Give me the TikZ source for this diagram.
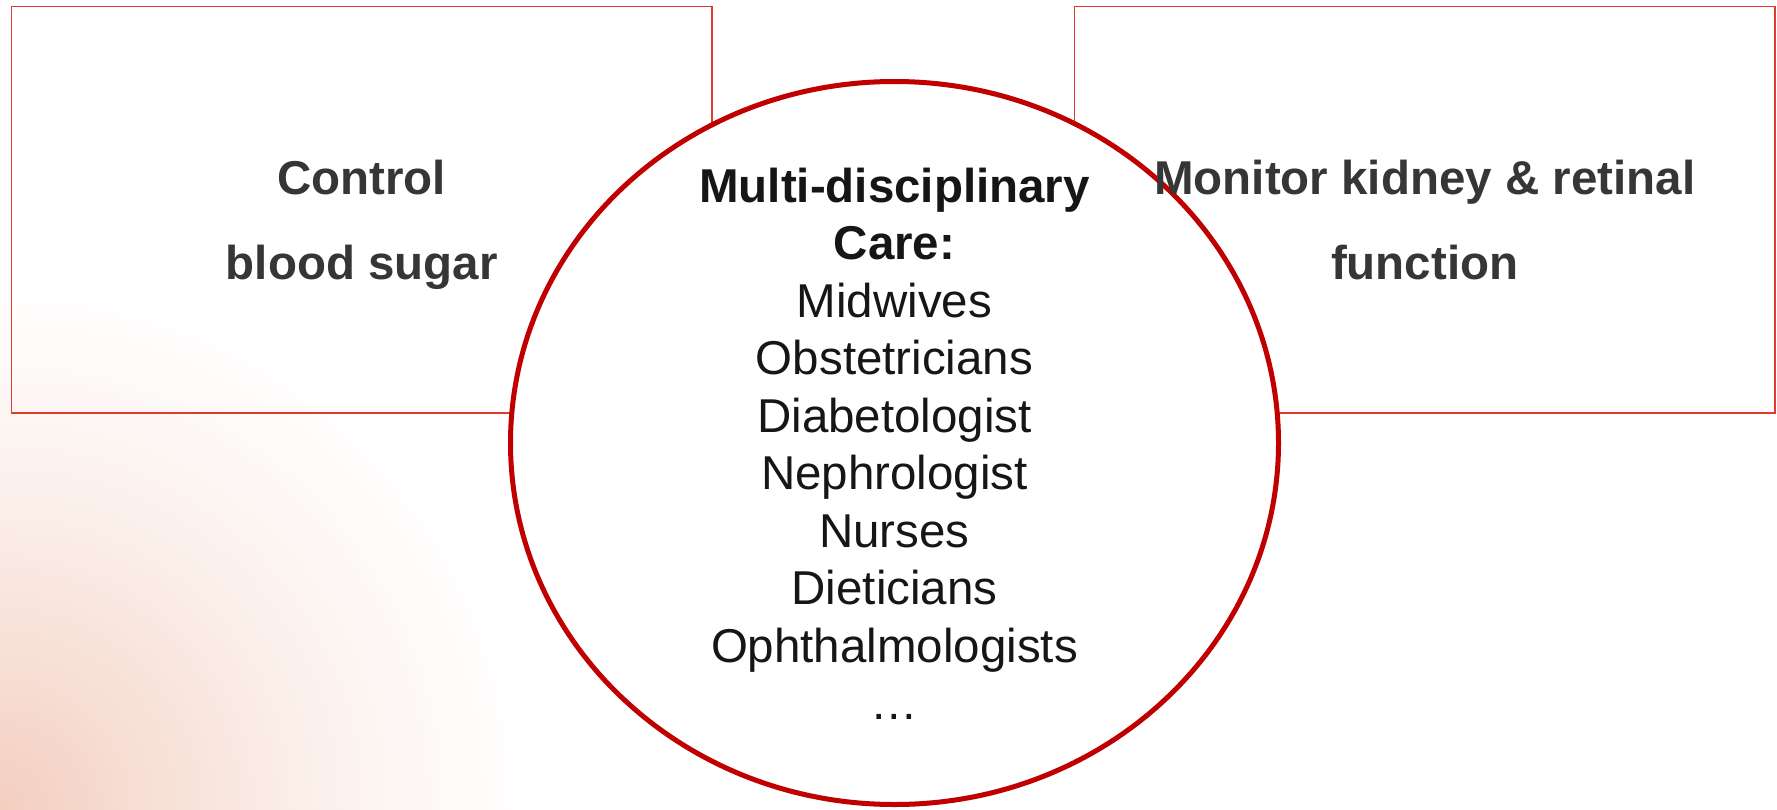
\documentclass[tikz,border=0pt]{standalone}
\usepackage{fontspec}
\setmainfont{Liberation Sans}
\usetikzlibrary{shapes.geometric}

\definecolor{boxred}{HTML}{E03A2E}
\definecolor{ringred}{HTML}{C00000}
\definecolor{boxtext}{HTML}{363636}
\definecolor{ringtext}{HTML}{161616}
\definecolor{peach}{HTML}{F3CFC0}

\begin{document}
\begin{tikzpicture}[x=1pt,y=-1pt,
  goalbox/.style={draw=boxred, line width=1.5pt, minimum width=700.5pt,
    minimum height=406.5pt, inner sep=0pt},
  goaltext/.style={text=boxtext, font=\fontsize{47.5}{85}\selectfont\bfseries,
    align=center, anchor=base, inner sep=0pt},
  carering/.style={ellipse, draw=ringred, fill=white, line width=5pt,
    minimum width=768pt, minimum height=723pt, inner sep=0pt},
  caretext/.style={text=ringtext, font=\fontsize{47.5}{57.5}\selectfont,
    align=center, inner sep=0pt}]
\useasboundingbox (0,0) rectangle (1777,809);

% soft warm glow in the lower left corner, built from nested discs
\begin{scope}
  \clip (0,0) rectangle (1777,809);
  \foreach \k in {1,...,60}{
    \pgfmathsetmacro\rr{9*(61-\k)}
    \pgfmathsetmacro\pp{100*(\k/60)^1.3}
    \fill[peach!\pp!white] (0,809) circle (\rr);
  }
\end{scope}

% the two goal boxes
\node[goalbox] (sugar)  at (361.75,209.75) {};
\node[goalbox] (organs) at (1424.75,209.75) {};

% the care team in the middle
\node[carering] (care) at (894.5,443) {};
\node[caretext] (carelist) at (894.5,444) {%
  \textbf{Multi-disciplinary}\\\textbf{Care:}\\Midwives\\Obstetricians\\%
  Diabetologist\\Nephrologist\\Nurses\\Dieticians\\Ophthalmologists\\…};

% box captions, drawn last so they sit on top of the ring
\node[goaltext] (sugartext) at (361.75,279) {Control\\blood sugar};
\node[goaltext] (organtext) at (1424.75,279) {Monitor kidney \& retinal\\function};
\end{tikzpicture}
\end{document}
